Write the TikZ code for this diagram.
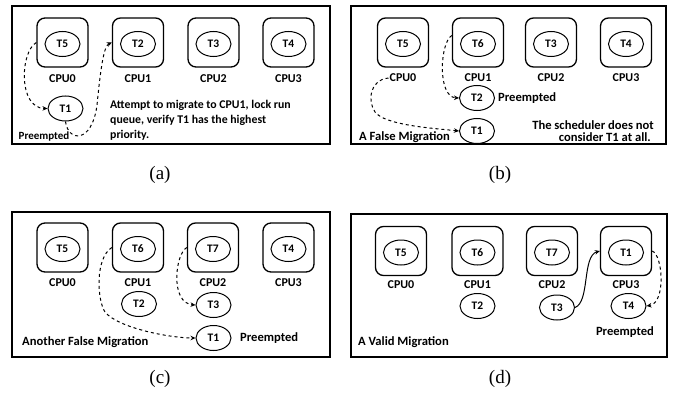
\documentclass[tikz,border=0pt]{standalone}
\usepackage{fontspec}
\setmainfont{Carlito}
\newfontfamily\capfont{Liberation Serif}
\usetikzlibrary{shapes.geometric,arrows.meta,calc}

\tikzset{
  frame/.style={draw, line width=1.5pt},
  cpubox/.style={draw, rounded corners=8pt, line width=1.3pt,
    minimum width=51pt, minimum height=49pt, inner sep=0pt},
  task/.style={draw, ellipse, line width=1pt, minimum width=35pt,
    minimum height=25pt, inner sep=0pt, font=\fontsize{11.5}{12}\selectfont\bfseries},
  cpulab/.style={font=\fontsize{12}{12}\selectfont\bfseries, inner sep=1pt},
  note/.style={font=\fontsize{12.6}{15}\selectfont\bfseries, inner sep=0pt},
  captext/.style={font=\capfont\fontsize{19}{20}\selectfont},
  mig/.style={dashed, line width=1pt, -{Stealth[length=5pt,width=4.5pt]}},
  run/.style={line width=1pt, -{Stealth[length=5pt,width=4.5pt]}},
}

% a CPU: box, the task it runs, and its name underneath
\newcommand\cpuunit[6]{%
  \node[cpubox] (#1) at (#2,#3) {};
  \node[task] (#1t) at ($(#1)+(0,1.5)$) {#4};
  \node[cpulab] (#1l) at ($(#1)+(0,#6)$) {#5};}

\begin{document}
\begin{tikzpicture}[x=1pt, y=-1pt]
\useasboundingbox (0,0) rectangle (676,393);

% ---------------- (a) ----------------
\draw[frame] (12,6) rectangle (330,144);
\cpuunit{a0}{62.5}{42.5}{T5}{CPU0}{36.5}
\cpuunit{a1}{138}{42.5}{T2}{CPU1}{36.5}
\cpuunit{a2}{213.5}{42.5}{T3}{CPU2}{36.5}
\cpuunit{a3}{288.5}{42.5}{T4}{CPU3}{36.5}
\node[task] (aT1) at (65.5,108.5) {T1};
\node[note, font=\fontsize{11}{12}\selectfont\bfseries] (apre) at (44,137) {Preempted};
\node[note, font=\fontsize{11.8}{15}\selectfont\bfseries, anchor=west, align=left] (atext) at (110,120)
  {Attempt to migrate to CPU1, lock run\\queue, verify T1 has the highest\\priority.};
\draw[mig] (a0.west) .. controls (20,52) and (18,108) .. (aT1.west);
\draw[mig] (aT1.south) .. controls (68,142) and (92,144) .. (97,105)
  .. controls (101,65) and (104,46) .. (a1.west);
\node[captext] (capa) at (160,175) {(a)};

% ---------------- (b) ----------------
\draw[frame] (351,6) rectangle (666,144);
\cpuunit{b0}{403}{42.5}{T5}{CPU0}{35.5}
\cpuunit{b1}{478}{42.5}{T6}{CPU1}{35.5}
\cpuunit{b2}{551}{42.5}{T3}{CPU2}{35.5}
\cpuunit{b3}{626}{42.5}{T4}{CPU3}{35.5}
\node[task] (bT2) at (477,98) {T2};
\node[task] (bT1) at (477,131) {T1};
\node[note, anchor=west] (bpre) at (498,98) {Preempted};
\node[note, anchor=west] (bfalse) at (359,137) {A False Migration};
\node[note, anchor=east] (bs1) at (654,125) {The scheduler does not};
\node[note, anchor=east] (bs2) at (651,137.5) {consider T1 at all.};
\draw[mig] (b0l.west) .. controls (370,80) and (367,100) .. (375,112)
  .. controls (385,125) and (430,128) .. (bT1.west);
\draw[mig] (b1.165) .. controls (440,42) and (437,97) .. (bT2.west);
\node[captext] (capb) at (500,175) {(b)};

% ---------------- (c) ----------------
\draw[frame] (12,212) rectangle (330,357);
\cpuunit{c0}{62.5}{247.5}{T5}{CPU0}{35.5}
\cpuunit{c1}{138}{247.5}{T6}{CPU1}{35.5}
\cpuunit{c2}{213}{247.5}{T7}{CPU2}{35.5}
\cpuunit{c3}{288.5}{247.5}{T4}{CPU3}{35.5}
\node[task] (cT2) at (139,304) {T2};
\node[task] (cT3) at (213.5,305) {T3};
\node[task] (cT1) at (213.5,338) {T1};
\node[note, anchor=west] (cpre) at (240,338) {Preempted};
\node[note, anchor=west] (cfalse) at (22,342) {Another False Migration};
\draw[mig] (c1.west) .. controls (95,258) and (97,300) .. (105,312)
  .. controls (118,328) and (170,338) .. (cT1.west);
\draw[mig] (c2.west) .. controls (175,254) and (170,303) .. (cT3.west);
\node[captext] (capc) at (160,379) {(c)};

% ---------------- (d) ----------------
\draw[frame] (351,214) rectangle (667,357);
\cpuunit{d0}{401}{251}{T5}{CPU0}{33.5}
\cpuunit{d1}{477.5}{251}{T6}{CPU1}{33.5}
\cpuunit{d2}{552}{251}{T7}{CPU2}{33.5}
\cpuunit{d3}{626}{251}{T1}{CPU3}{33.5}
\node[task] (dT2) at (477.5,306) {T2};
\node[task] (dT3) at (557,307.5) {T3};
\node[task] (dT4) at (628.5,306) {T4};
\node[note] (dpre) at (625,332) {Preempted};
\node[note, anchor=west] (dvalid) at (358,342) {A Valid Migration};
\draw[run] (dT3.east) .. controls (590,302) and (582,256) .. (d3.west);
\draw[mig] (d3.east) .. controls (663,255) and (666,303) .. (dT4.east);
\node[captext] (capd) at (500,379) {(d)};
\end{tikzpicture}
\end{document}
